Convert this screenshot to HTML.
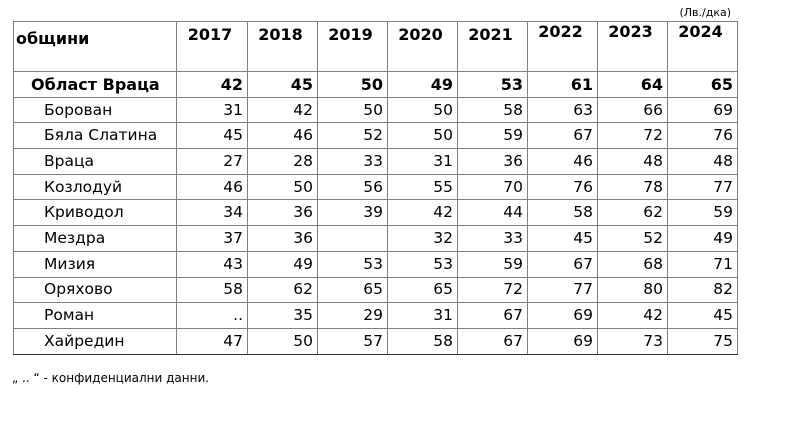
<!DOCTYPE html>
<html><head><meta charset="utf-8"><style>
body{margin:0;width:795px;height:427px;background:#fff;position:relative;font-family:"DejaVu Sans","Liberation Sans",sans-serif;color:#000}
table{position:absolute;left:13px;top:21px;border-collapse:collapse;table-layout:fixed}
td,th{border:1px solid #7f7f7f;padding:0 4px 0 0;font-size:15.5px;height:24.7px;line-height:17px;text-align:right;white-space:nowrap}
th{font-weight:bold;vertical-align:top;height:45px;padding-top:4px;text-align:center;font-size:16px}
th.n{text-align:left;padding-left:2px;padding-top:8px;height:41px}
td.n{text-align:left;padding-left:30px}
tr.tot td{font-weight:bold;font-size:16px}
tr.tot td.n{padding-left:17px}
tr:last-child td{border-bottom:1.5px solid #333}
.unit{position:absolute;right:64px;top:6px;font-size:11px}
.note{position:absolute;left:12px;top:371px;font-size:12px}
</style></head><body>
<div class="unit">(Лв./дка)</div>
<table>
<colgroup><col style="width:163px"><col style="width:71px"><col style="width:70px"><col style="width:70px"><col style="width:70px"><col style="width:70px"><col style="width:70px"><col style="width:70px"><col style="width:70px"></colgroup>
<tr><th class="n">общини</th><th>2017</th><th>2018</th><th>2019</th><th>2020</th><th>2021</th><th style="padding-top:1px;height:48px">2022</th><th style="padding-top:1px;height:48px">2023</th><th style="padding-top:1px;height:48px">2024</th></tr>
<tr class="tot"><td class="n">Област Враца</td><td>42</td><td>45</td><td>50</td><td>49</td><td>53</td><td>61</td><td>64</td><td>65</td></tr>
<tr><td class="n">Борован</td><td>31</td><td>42</td><td>50</td><td>50</td><td>58</td><td>63</td><td>66</td><td>69</td></tr>
<tr><td class="n">Бяла Слатина</td><td>45</td><td>46</td><td>52</td><td>50</td><td>59</td><td>67</td><td>72</td><td>76</td></tr>
<tr><td class="n">Враца</td><td>27</td><td>28</td><td>33</td><td>31</td><td>36</td><td>46</td><td>48</td><td>48</td></tr>
<tr><td class="n">Козлодуй</td><td>46</td><td>50</td><td>56</td><td>55</td><td>70</td><td>76</td><td>78</td><td>77</td></tr>
<tr><td class="n">Криводол</td><td>34</td><td>36</td><td>39</td><td>42</td><td>44</td><td>58</td><td>62</td><td>59</td></tr>
<tr><td class="n">Мездра</td><td>37</td><td>36</td><td></td><td>32</td><td>33</td><td>45</td><td>52</td><td>49</td></tr>
<tr><td class="n">Мизия</td><td>43</td><td>49</td><td>53</td><td>53</td><td>59</td><td>67</td><td>68</td><td>71</td></tr>
<tr><td class="n">Оряхово</td><td>58</td><td>62</td><td>65</td><td>65</td><td>72</td><td>77</td><td>80</td><td>82</td></tr>
<tr><td class="n">Роман</td><td>..</td><td>35</td><td>29</td><td>31</td><td>67</td><td>69</td><td>42</td><td>45</td></tr>
<tr><td class="n">Хайредин</td><td>47</td><td>50</td><td>57</td><td>58</td><td>67</td><td>69</td><td>73</td><td>75</td></tr>
</table>
<div class="note">„ .. “ - конфиденциални данни.</div>
</body></html>
